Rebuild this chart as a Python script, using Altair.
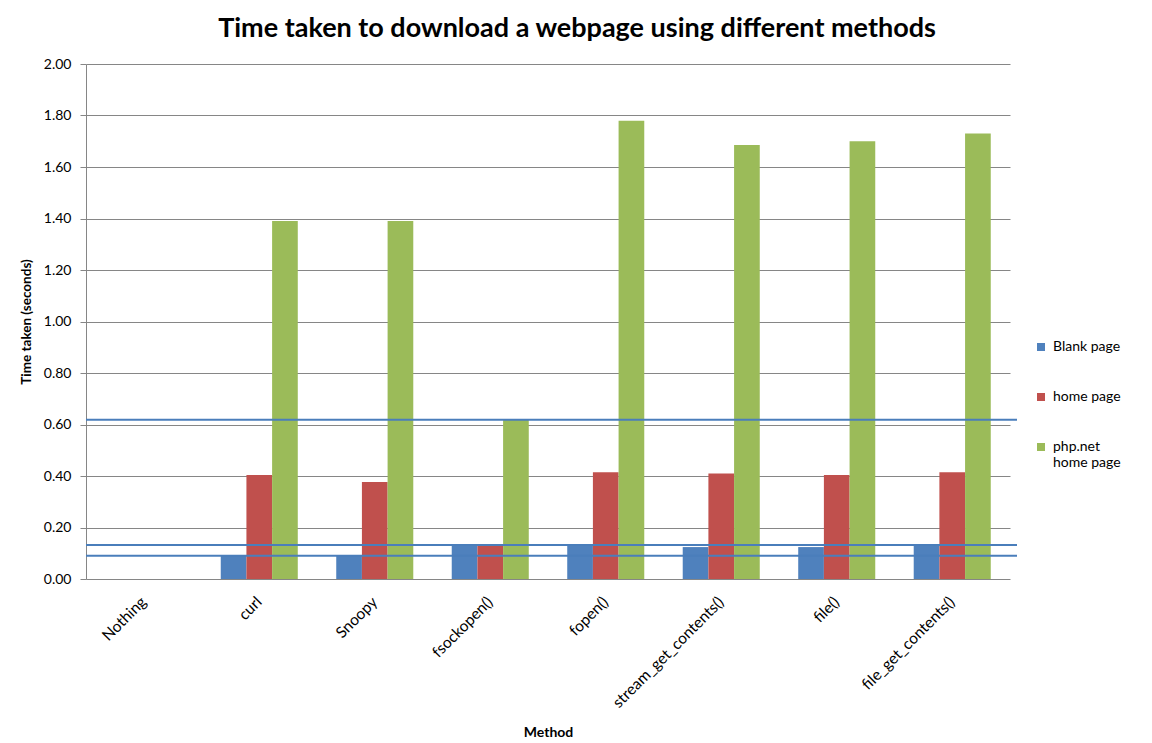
import altair as alt
import pandas as pd

methods = ["Nothing", "curl", "Snoopy", "fsockopen()", "fopen()",
           "stream_get_contents()", "file()", "file_get_contents()"]
series = ["Blank page", " home page", "php.net home page"]
blank = [0.0, 0.09, 0.09, 0.132, 0.135, 0.124, 0.124, 0.136]
home = [0.0, 0.404, 0.377, 0.13, 0.415, 0.41, 0.404, 0.415]
php = [0.0, 1.39, 1.39, 0.618, 1.78, 1.685, 1.70, 1.73]
ref_lines = [0.618, 0.132, 0.09]
colors = ["#4f81bd", "#c0504d", "#9bbb59"]

rows = []
for s, vals in zip(series, [blank, home, php]):
    for m, v in zip(methods, vals):
        rows.append({"method": m, "series": s, "value": v})
df = pd.DataFrame(rows)
lines_df = pd.DataFrame({"v": ref_lines})

FONT = "Lato"
W, H = 924, 515

bars = alt.Chart(df).mark_bar().encode(
    x=alt.X("method:N", sort=methods,
            scale=alt.Scale(paddingInner=0.333, paddingOuter=0.1667),
            axis=alt.Axis(title="Method", labelAngle=-45, labelAlign="right",
                          labelBaseline="middle", labelPadding=20, ticks=False,
                          domain=False, labelFontSize=15.5,
                          titleFontSize=14, titleFontWeight="bold",
                          titlePadding=0, titleY=146, labelColor="#000",
                          titleColor="#000", labelFont=FONT, titleFont=FONT)),
    xOffset=alt.XOffset("series:N", sort=series,
                        scale=alt.Scale(paddingInner=0, paddingOuter=0)),
    y=alt.Y("value:Q", scale=alt.Scale(domain=[0, 2], nice=False),
            axis=alt.Axis(title="Time taken (seconds)", values=[0, 0.2, 0.4, 0.6, 0.8, 1.0, 1.2, 1.4, 1.6, 1.8, 2.0],
                          format=".2f", grid=True, gridColor="#868686",
                          domainColor="#868686", tickColor="#868686",
                          tickSize=6, labelPadding=9, labelFontSize=14,
                          titleFontSize=13.5, titleFontWeight="bold",
                          titleX=-53, labelColor="#000", titleColor="#000",
                          labelFont=FONT, titleFont=FONT)),
    color=alt.Color("series:N", sort=series,
                    scale=alt.Scale(domain=series, range=colors),
                    legend=alt.Legend(title=None, orient="none", legendX=948,
                                      legendY=276, symbolType="square",
                                      symbolSize=64, rowPadding=36,
                                      labelOffset=5,
                                      labelFontSize=14, labelFont=FONT,
                                      labelColor="#000", labelLimit=200,
                                      labelExpr="datum.label == 'php.net home page' ? ['php.net', 'home page'] : datum.label")),
)

rules = alt.Chart(lines_df).mark_rule(color="#4a7ebb", strokeWidth=2).encode(
    y="v:Q",
    x=alt.value(0),
    x2=alt.value(931),
)

chart = alt.layer(bars, rules).properties(
    width=W, height=H,
    title=alt.TitleParams("Time taken to download a webpage using different methods",
                          fontSize=27, font=FONT, fontWeight="bold", color="#000",
                          anchor="middle", frame="group", dx=29, offset=14),
    autosize=alt.AutoSizeParams(type="none"),
    padding={"left": 86, "top": 64, "right": 142, "bottom": 165},
).configure_view(stroke=None).configure_axisX(grid=False)

chart.save("out.html", embed_options={"renderer": "svg", "actions": False})
